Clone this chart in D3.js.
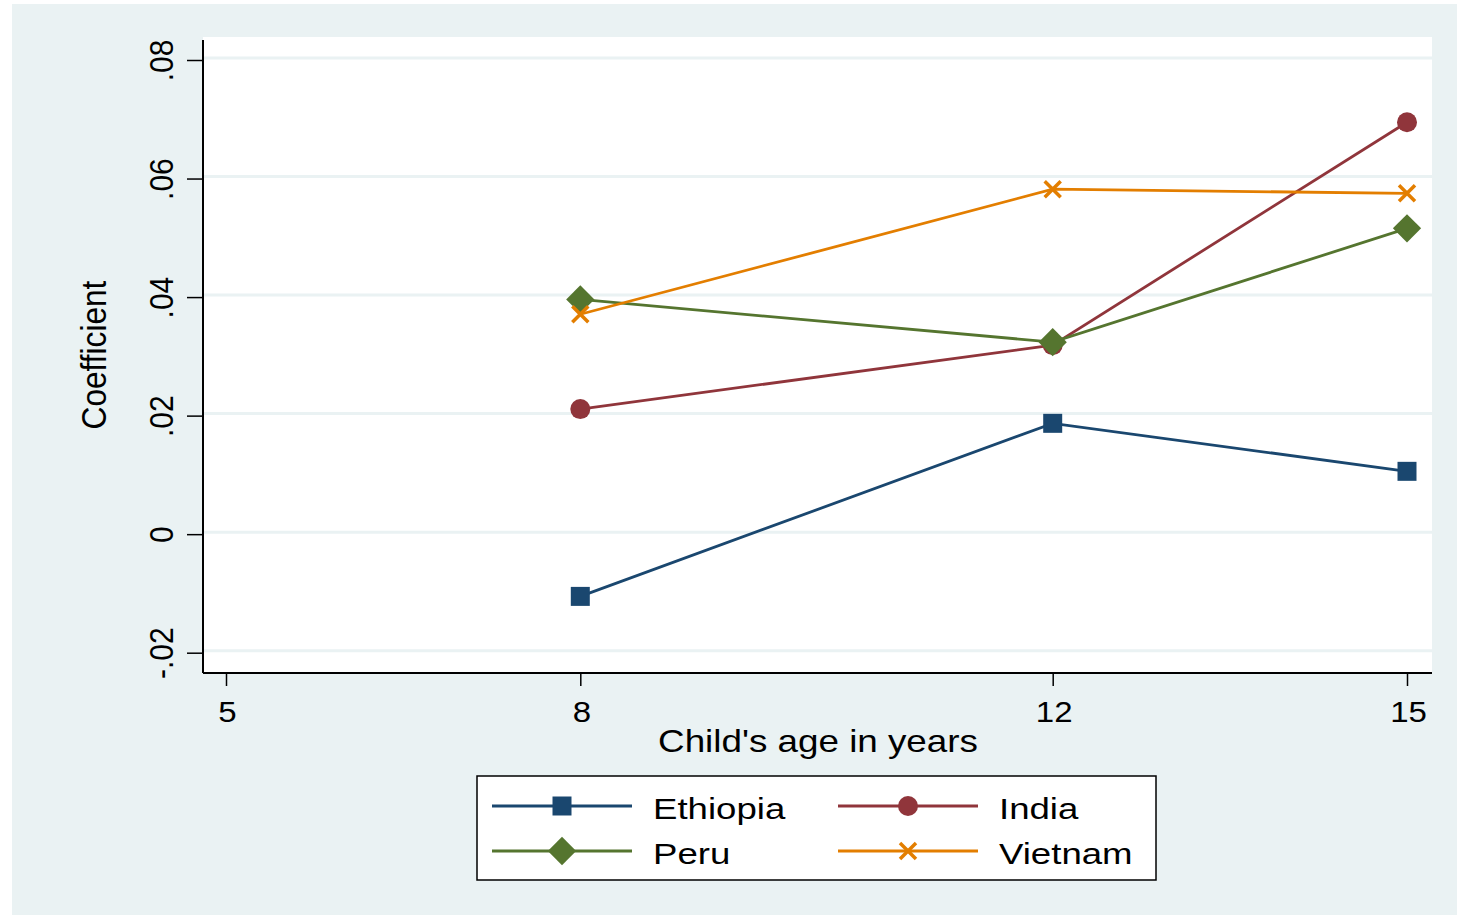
<!DOCTYPE html>
<html>
<head>
<meta charset="utf-8">
<script src="https://cdn.jsdelivr.net/npm/d3@7"></script>
<style>
  body { margin: 0; background: #fff; }
  text { font-family: "Liberation Sans", Arial, sans-serif; fill: #000; }
</style>
</head>
<body>
<div id="chart"></div>
<script>
const ages = [8, 12, 15];
const ethiopia = [-0.0105, 0.0187, 0.0106];
const india = [0.0211, 0.0319, 0.0695];
const peru = [0.0396, 0.0324, 0.0516];
const vietnam = [0.0371, 0.0582, 0.0575];

const xTicks = [5, 8, 12, 15];
const yTicks = [-0.02, 0, 0.02, 0.04, 0.06, 0.08];
const yLabels = ["-.02", "0", ".02", ".04", ".06", ".08"];

const series = [
  { name: "Ethiopia", values: ethiopia, color: "#1a476f", symbol: "square" },
  { name: "India", values: india, color: "#90353b", symbol: "circle" },
  { name: "Peru", values: peru, color: "#55752f", symbol: "diamond" },
  { name: "Vietnam", values: vietnam, color: "#e37e00", symbol: "x" }
];

const width = 1457, height = 915;
const bg = "#eaf2f3";

const svg = d3.select("#chart")
  .append("svg")
  .attr("width", width)
  .attr("height", height);

// outer graph region
svg.append("rect")
  .attr("x", 12).attr("y", 4)
  .attr("width", width - 12).attr("height", height - 4)
  .attr("fill", bg);

const plot = { left: 203, right: 1432, top: 37, bottom: 673 };

svg.append("rect")
  .attr("x", plot.left).attr("y", plot.top)
  .attr("width", plot.right - plot.left).attr("height", plot.bottom - plot.top)
  .attr("fill", "#fff");

const x = d3.scaleLinear().domain([5, 15]).range([226, 1407]);
const y = d3.scaleLinear().domain([-0.02, 0.08]).range([652.7, 60]);

// gridlines
svg.append("g")
  .selectAll("line")
  .data(yTicks)
  .join("line")
  .attr("x1", plot.left).attr("x2", plot.right)
  .attr("y1", d => y(d) - 2).attr("y2", d => y(d) - 2)
  .attr("stroke", bg)
  .attr("stroke-width", 3);

// y axis
const yAxis = svg.append("g")
  .attr("transform", `translate(${plot.left},0)`)
  .call(d3.axisLeft(y).tickValues(yTicks).tickFormat((d, i) => yLabels[i]).tickSize(16).tickPadding(0));
yAxis.select(".domain").remove();
yAxis.selectAll(".tick line").attr("stroke", "#000").attr("stroke-width", 1.5);
yAxis.selectAll(".tick text")
  .attr("x", null).attr("dy", null)
  .attr("text-anchor", "middle")
  .attr("font-size", 30)
  .attr("fill", "#000")
  .attr("transform", "translate(-30,0) rotate(-90) scale(1,1.12)");

svg.append("line")
  .attr("x1", plot.left).attr("x2", plot.left)
  .attr("y1", 40).attr("y2", plot.bottom)
  .attr("stroke", "#000").attr("stroke-width", 2);

// x axis
const xAxis = svg.append("g")
  .attr("transform", `translate(0,${plot.bottom})`)
  .call(d3.axisBottom(x).tickValues(xTicks).tickSize(13).tickPadding(0));
xAxis.select(".domain").remove();
xAxis.selectAll(".tick line").attr("stroke", "#000").attr("stroke-width", 1.5);
xAxis.selectAll(".tick text")
  .attr("y", null).attr("dy", null)
  .attr("text-anchor", "middle")
  .attr("font-size", 30)
  .attr("fill", "#000")
  .attr("transform", "translate(1,49) scale(1.1,1)");

svg.append("line")
  .attr("x1", plot.left).attr("x2", plot.right)
  .attr("y1", plot.bottom).attr("y2", plot.bottom)
  .attr("stroke", "#000").attr("stroke-width", 2);

// axis titles
svg.append("text")
  .attr("transform", "translate(818,752) scale(1.15,1)")
  .attr("text-anchor", "middle")
  .attr("font-size", 32)
  .text("Child's age in years");

svg.append("text")
  .attr("transform", "translate(106,355) rotate(-90) scale(1.02,1.15)")
  .attr("text-anchor", "middle")
  .attr("font-size", 31)
  .text("Coefficient");

function marker(sel, type, color) {
  if (type === "square") {
    sel.append("path").attr("d", d3.symbol(d3.symbolSquare, 19 * 19)()).attr("fill", color);
  } else if (type === "circle") {
    sel.append("path").attr("d", d3.symbol(d3.symbolCircle, Math.PI * 10 * 10)()).attr("fill", color);
  } else if (type === "diamond") {
    sel.append("path").attr("d", d3.symbol(d3.symbolSquare, 20 * 20)())
      .attr("transform", "rotate(45)").attr("fill", color);
  } else {
    const p = d3.path();
    p.moveTo(-8, -8); p.lineTo(8, 8);
    p.moveTo(-8, 8); p.lineTo(8, -8);
    sel.append("path").attr("d", p.toString())
      .attr("stroke", color).attr("stroke-width", 3.5).attr("fill", "none");
  }
}

const line = d3.line()
  .x((d, i) => x(ages[i]))
  .y(d => y(d));

for (const s of series) {
  const g = svg.append("g");
  g.append("path")
    .attr("d", line(s.values))
    .attr("fill", "none")
    .attr("stroke", s.color)
    .attr("stroke-width", 2.8);
  g.selectAll("g.pt")
    .data(s.values)
    .join("g")
    .attr("class", "pt")
    .attr("transform", (d, i) => `translate(${x(ages[i])},${y(d)})`)
    .each(function () { marker(d3.select(this), s.symbol, s.color); });
}

// legend
const legend = svg.append("g");
legend.append("rect")
  .attr("x", 477).attr("y", 776)
  .attr("width", 679).attr("height", 104)
  .attr("fill", "#fff")
  .attr("stroke", "#000")
  .attr("stroke-width", 1.5);

const legCols = [492, 838];
const legRows = [806, 851];
series.forEach((s, i) => {
  const lx = legCols[i % 2], ly = legRows[Math.floor(i / 2)];
  const g = legend.append("g");
  g.append("line")
    .attr("x1", lx).attr("x2", lx + 140)
    .attr("y1", ly).attr("y2", ly)
    .attr("stroke", s.color).attr("stroke-width", 2.8);
  const m = g.append("g").attr("transform", `translate(${lx + 70},${ly})`);
  marker(m, s.symbol, s.color);
  g.append("text")
    .attr("transform", `translate(${lx + 161},${ly + 13}) scale(1.22,1)`)
    .attr("font-size", 30)
    .text(s.name);
});
</script>
</body>
</html>
